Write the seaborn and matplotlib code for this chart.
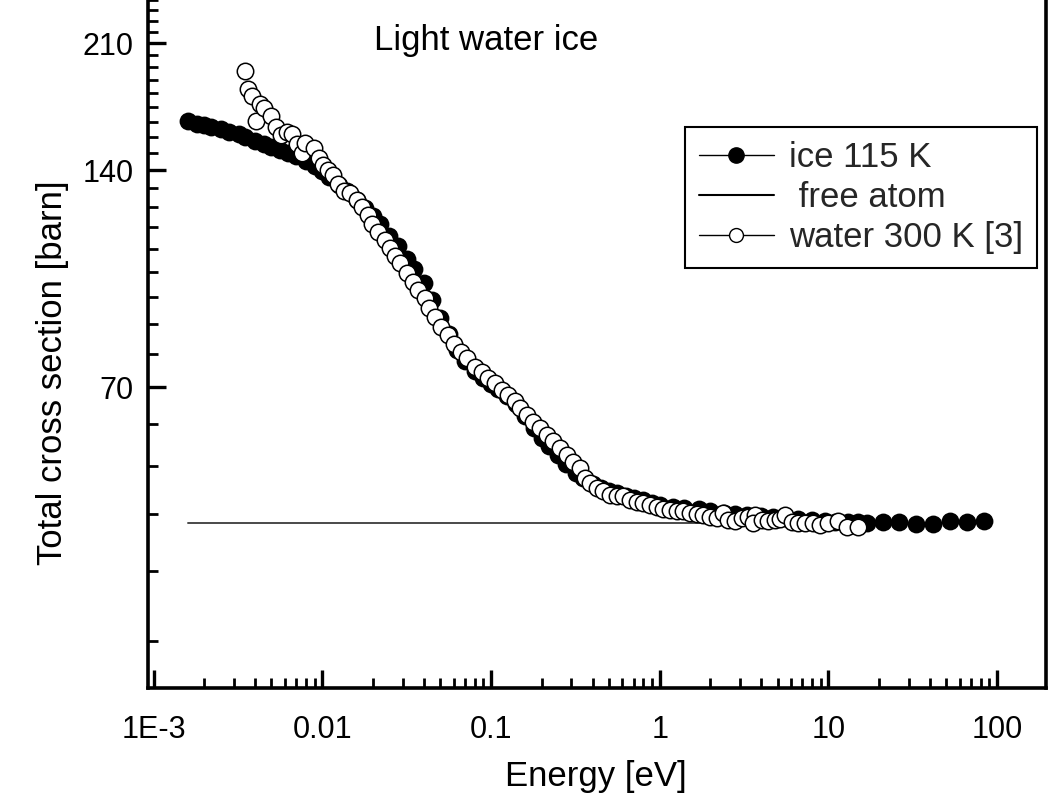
import numpy as np
import pandas as pd
import matplotlib
matplotlib.use("Agg")
import matplotlib.pyplot as plt
from matplotlib.lines import Line2D
from matplotlib.ticker import FixedLocator, FixedFormatter, LogLocator, NullFormatter
import seaborn as sns

# ---------------- data ----------------
ice_E = [0.0016, 0.0018, 0.002, 0.0022, 0.0025, 0.0028, 0.0032, 0.0035, 0.004, 0.0045,
         0.005, 0.0056, 0.0063, 0.007, 0.008, 0.009,
         0.01, 0.011, 0.0125, 0.014, 0.016, 0.018, 0.02, 0.022, 0.025, 0.028,
         0.032, 0.035, 0.04, 0.045, 0.05, 0.056, 0.063, 0.07, 0.08, 0.09,
         0.1, 0.11, 0.125, 0.14, 0.16, 0.18, 0.2, 0.22, 0.25, 0.28,
         0.32, 0.35, 0.4, 0.45, 0.5, 0.56, 0.63, 0.7, 0.8, 0.9,
         1.0, 1.2, 1.4, 1.7, 2.0, 2.4, 2.8, 3.3, 4.0, 4.7, 5.6, 6.6, 8.0, 9.5, 11, 13, 15,
         16.9, 21, 26.3, 33, 41.5, 52.6, 66, 83.6]
ice_sigma = [163.6, 162.5, 161.5, 160.6, 159.5, 158.2, 157.0, 155.7, 153.8, 152.3,
             151.0, 149.4, 147.8, 146.5, 144.3, 141.9,
             139.5, 137.0, 133.5, 131.0, 127.5, 124.0, 120.8, 117.9, 113.5, 109.8,
             105.4, 102.2, 97.7, 92.5, 87.4, 83.0, 78.9, 76.2, 73.8, 72.0,
             70.8, 69.6, 68.1, 66.4, 63.9, 61.5, 59.6, 58.1, 56.4, 54.8,
             53.3, 52.4, 51.4, 50.8, 50.3, 49.9, 49.5, 49.2, 48.8, 48.4,
             48.1, 47.8, 47.6, 47.4, 47.2, 46.9, 46.7, 46.6, 46.4, 46.2, 46.1, 45.9, 45.8, 45.7, 45.6, 45.5, 45.5,
             45.4, 45.5, 45.5, 45.2, 45.3, 45.7, 45.5, 45.7]

water_E = [0.00348, 0.00364, 0.00383, 0.00402, 0.00427, 0.00451, 0.0050, 0.00532, 0.00569, 0.00622,
           0.00661, 0.00708, 0.00758, 0.00795, 0.00893, 0.00956, 0.01014, 0.01081, 0.01162, 0.01247,
           0.01345, 0.0146, 0.0160, 0.01719, 0.01874, 0.01971, 0.02148, 0.02353, 0.02519, 0.02698,
           0.02888, 0.03165, 0.03463, 0.03707, 0.04063, 0.04291, 0.04656, 0.05053, 0.05524, 0.06035,
           0.06641, 0.07255, 0.08037, 0.08808, 0.09638, 0.1056, 0.1157, 0.1267, 0.1388, 0.1486,
           0.1628, 0.1781, 0.1952, 0.2139, 0.2340, 0.2564, 0.2810, 0.3076, 0.3370, 0.3607,
           0.3862, 0.4232, 0.4631, 0.5074, 0.5559, 0.6087, 0.6668, 0.7307, 0.7994, 0.8760,
           0.9598, 1.050, 1.151, 1.261, 1.380, 1.512, 1.657, 1.813, 1.987, 2.177,
           2.382, 2.551, 2.796, 3.062, 3.351, 3.672, 3.587, 4.023, 4.402, 4.825,
           5.166, 5.532, 6.061, 6.632, 7.265, 8.137, 8.917, 9.986, 11.45, 12.84, 15.04]
water_sigma = [192.2, 181.3, 177.5, 163.9, 173.0, 170.5, 166.5, 160.5, 156.7, 158.2,
               157.2, 152.0, 148.0, 152.5, 150.1, 145.8, 142.4, 140.1, 137.9, 134.0,
               131.1, 130.1, 127.3, 124.5, 121.4, 117.9, 115.1, 112.1, 109.1, 106.3,
               104.0, 100.8, 98.1, 95.5, 93.0, 90.2, 87.6, 84.9, 82.6, 80.5,
               78.4, 76.8, 74.8, 73.6, 72.1, 70.9, 69.4, 68.3, 66.9, 65.5,
               64.1, 62.7, 61.4, 60.1, 58.9, 57.6, 56.4, 55.2, 54.1, 52.4,
               51.5, 50.7, 50.2, 49.6, 49.4, 49.4, 48.9, 48.6, 48.4, 48.1,
               47.8, 47.4, 47.3, 47.2, 47.1, 46.9, 46.7, 46.6, 46.3, 46.1,
               46.8, 45.8, 45.7, 46.1, 46.2, 46.6, 45.4, 45.8, 45.7, 45.8,
               45.9, 46.6, 45.6, 45.4, 45.4, 45.4, 45.1, 45.4, 45.7, 44.8, 44.8]

free_E = [0.0016, 15.0]
free_sigma = [45.4, 45.4]

x_ticks = [1e-3, 1e-2, 1e-1, 1, 10, 100]
x_ticklabels = ["1E-3", "0.01", "0.1", "1", "10", "100"]
y_ticks = [70, 140, 210]
y_ticklabels = ["70", "140", "210"]

series_labels = ["ice 115 K", " free atom", "water 300 K [3]"]
title_text = "Light water ice"
x_label = "Energy [eV]"
y_label = "Total cross section [barn]"

# ---------------- styling ----------------
sns.set_theme(style="white")
plt.rcParams["font.family"] = ["Liberation Sans", "DejaVu Sans"]
plt.rcParams["axes.unicode_minus"] = False

fig = plt.figure(figsize=(10.58, 8.06), dpi=100)
ax = fig.add_axes([0.1396, 0.1464, 0.8486, 0.8586])

ice_df = pd.DataFrame({"E": ice_E, "sigma": ice_sigma})
water_df = pd.DataFrame({"E": water_E, "sigma": water_sigma})
free_df = pd.DataFrame({"E": free_E, "sigma": free_sigma})

sns.lineplot(data=free_df, x="E", y="sigma", ax=ax, color="#4a4a4a", linewidth=1.4,
             zorder=1, legend=False)
sns.scatterplot(data=ice_df, x="E", y="sigma", ax=ax, color="black", s=165,
                edgecolor="black", linewidth=0, zorder=2, legend=False)
sns.scatterplot(data=water_df, x="E", y="sigma", ax=ax, facecolor="white", s=140,
                edgecolor="black", linewidth=1.1, zorder=3, legend=False)

ax.set_xscale("log")
ax.set_yscale("log")
ax.set_xlim(9.23e-4, 193.6)
ax.set_ylim(26.8, 244.2)

ax.xaxis.set_major_locator(FixedLocator(x_ticks))
ax.xaxis.set_major_formatter(FixedFormatter(x_ticklabels))
ax.xaxis.set_minor_locator(LogLocator(base=10, subs=np.arange(2, 10)))
ax.xaxis.set_minor_formatter(NullFormatter())

ax.yaxis.set_major_locator(FixedLocator(y_ticks))
ax.yaxis.set_major_formatter(FixedFormatter(y_ticklabels))
y_minor = [70.0 * k / 9.0 for k in range(3, 32) if k % 9 != 0]
ax.yaxis.set_minor_locator(FixedLocator(y_minor))
ax.yaxis.set_minor_formatter(NullFormatter())

for side in ["left", "bottom", "right", "top"]:
    ax.spines[side].set_visible(True)
    ax.spines[side].set_linewidth(2.6)
    ax.spines[side].set_color("black")

ax.tick_params(axis="both", which="both", left=True, bottom=True, right=False, top=False)
ax.tick_params(axis="both", which="major", direction="in", length=13, width=2.4,
               color="black", labelsize=22, labelcolor="black")
ax.tick_params(axis="both", which="minor", direction="in", length=7, width=2.0,
               color="black")
ax.tick_params(axis="x", which="major", pad=19.5)
ax.tick_params(axis="y", which="major", pad=10)

ax.set_xlabel(x_label, fontsize=25, color="black")
ax.set_ylabel(y_label, fontsize=25, color="black")
ax.xaxis.set_label_coords(0.499, -0.128)
ax.xaxis.label.set_va("center")
ax.yaxis.set_label_coords(-0.106, 0.455)
ax.yaxis.label.set_va("center")

ax.text(0.3767, 0.936, title_text, transform=ax.transAxes, ha="center", va="center",
        fontsize=25, color="black")

handles = [
    Line2D([], [], color="black", linewidth=1.0, marker="o", markersize=11,
           markerfacecolor="black", markeredgecolor="black"),
    Line2D([], [], color="black", linewidth=1.5),
    Line2D([], [], color="black", linewidth=1.0, marker="o", markersize=10,
           markerfacecolor="white", markeredgecolor="black", markeredgewidth=1.0),
]
leg = ax.legend(handles, series_labels, loc="upper left",
                bbox_to_anchor=(685 / 1058, 1 - 127 / 806),
                bbox_transform=fig.transFigure, fontsize=25, frameon=True,
                fancybox=False, shadow=False, borderaxespad=0, borderpad=0.4,
                handlelength=2.15, handletextpad=0.45, labelspacing=0.2)
leg.get_frame().set_edgecolor("black")
leg.get_frame().set_linewidth(1.5)
leg.get_frame().set_facecolor("white")
leg.get_frame().set_alpha(1)

fig.savefig("out.png", dpi=100, facecolor="white")
